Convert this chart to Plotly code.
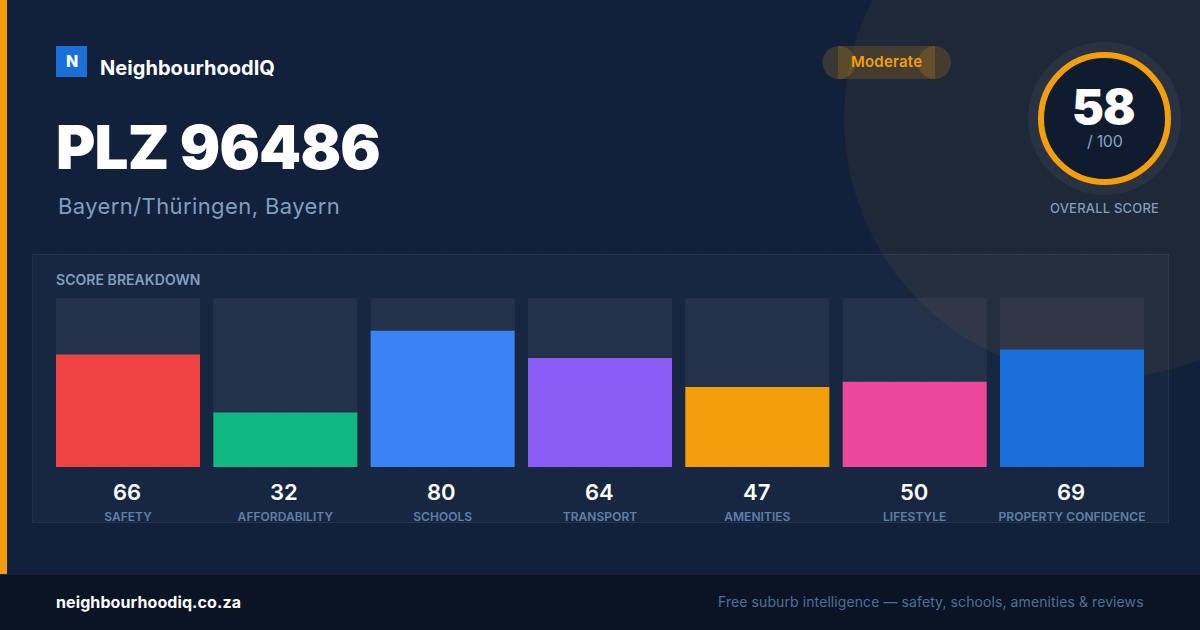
import numpy as np
import plotly.graph_objects as go

categories = ["SAFETY", "AFFORDABILITY", "SCHOOLS", "TRANSPORT", "AMENITIES", "LIFESTYLE", "PROPERTY CONFIDENCE"]
scores = [66, 32, 80, 64, 47, 50, 69]
track = [100, 100, 100, 100, 100, 100, 100]
bar_colors = ["#ef4444", "#10b981", "#3b82f6", "#8b5cf6", "#f59e0b", "#ec4899", "#1a6fd9"]

FONT = "Inter"
AMBER = "#f59e0b"
MUTED = "#829ebd"
W, H = 1200, 630

# faint dot grid of the background
dot_x, dot_y = np.meshgrid(np.arange(24.5, W, 32), np.arange(24, 575, 32))

fig = go.Figure()

fig.add_trace(go.Scatter(
    x=dot_x.ravel(), y=dot_y.ravel(), mode="markers",
    marker=dict(size=2, color="rgba(255,255,255,0.035)"),
    hoverinfo="skip", xaxis="x", yaxis="y",
))
fig.add_trace(go.Bar(
    x=categories, y=track, width=144 / 157.33, marker=dict(color="rgba(255,255,255,0.05)", line_width=0),
    hoverinfo="skip", xaxis="x2", yaxis="y2",
))
fig.add_trace(go.Bar(
    x=categories, y=scores, width=144 / 157.33, marker=dict(color=bar_colors, line_width=0),
    xaxis="x2", yaxis="y2",
))


def spaced(text, px):
    return f'<span style="letter-spacing:{px}px">{text}</span>'


def label(x, y, text, size, color, weight=400, anchor="left", spacing=0, xref="x", xshift=0):
    if spacing:
        text = spaced(text, spacing)
    fig.add_annotation(
        x=x, y=y, xref=xref, yref="y", text=text, showarrow=False, xanchor=anchor, yanchor="middle", xshift=xshift,
        borderpad=0, borderwidth=0, font=dict(family=FONT, size=size, color=color, weight=weight),
    )


def circle(cx, cy, r, fill, layer="below", line=None):
    fig.add_shape(
        type="circle", x0=cx - r, x1=cx + r, y0=cy - r, y1=cy + r, xref="x", yref="y",
        fillcolor=fill, layer=layer, line=line or dict(width=0),
    )


def rect(x0, y0, x1, y1, fill, layer="below", line=None):
    fig.add_shape(
        type="rect", x0=x0, x1=x1, y0=y0, y1=y1, xref="x", yref="y",
        fillcolor=fill, layer=layer, line=line or dict(width=0),
    )


# background decoration
circle(1104, 118, 260, "rgba(245,158,11,0.06)")
rect(32.5, 254.5, 1168.5, 522.5, "rgba(255,255,255,0.03)", line=dict(color="rgba(255,255,255,0.07)", width=1))
rect(0, 0, 7, 630, AMBER, layer="above")

# footer
rect(0, 574, 1200, 630, "#0a1424", layer="above")
rect(0, 574, 1200, 575, "#111f33", layer="above")

# logo
rect(56, 46, 87, 77, "#1a6fd9", layer="above")
label(71.5, 60.5, "N", 16, "#ffffff", 800, "center")
label(100, 68, "NeighbourhoodIQ", 20, "#ffffff", 700, spacing=0.05)

# heading
label(56, 147, "PLZ 96486", 60, "#ffffff", 900, spacing=-0.8)
label(58, 205.5, "Bayern/Thüringen, Bayern", 22, MUTED, 400, spacing=0.4)

# rating pill, its rounded ends overlap the body in the reference
rect(838, 46, 935, 79, "rgba(245,158,11,0.18)", layer="above")
circle(839, 62.5, 16.5, "rgba(245,158,11,0.18)", layer="above")
circle(934.5, 62.5, 16.5, "rgba(245,158,11,0.18)", layer="above")
label(886.5, 61, "Moderate", 15, AMBER, 600, "center", spacing=0.2)

# overall score ring
circle(1104.5, 118.5, 76.5, "rgba(255,255,255,0.05)", layer="above")
circle(1104.5, 118.5, 63.5, "#0f1b2e", layer="above", line=dict(color=AMBER, width=6))
label(1103.5, 106.5, "58", 48, "#ffffff", 900, "center", spacing=-1)
label(1104.5, 141, "/ 100", 16, "#8aa3c0", 400, "center", spacing=-0.3)
label(1104.5, 207.5, "OVERALL SCORE", 13, MUTED, 500, "center", spacing=0.2)

# breakdown panel
label(56, 279.5, "SCORE BREAKDOWN", 14, MUTED, 600, spacing=0.05)
for cat, score in zip(categories, scores):
    label(cat, 491.5, str(score), 22, "#ffffff", 600, "center", xref="x2", xshift=-1)

# footer text
label(56, 602, "neighbourhoodiq.co.za", 16, "#ffffff", 700, spacing=0.1)
label(1144, 601.5, "Free suburb intelligence — safety, schools, amenities &amp; reviews", 14, "#4f7098", 400, "right", spacing=0.09)

fig.update_layout(
    width=W, height=H, margin=dict(l=0, r=0, t=0, b=0), autosize=False,
    paper_bgcolor="#11213b", plot_bgcolor="rgba(0,0,0,0)",
    showlegend=False, barmode="overlay",
    font=dict(family=FONT),
    xaxis=dict(domain=[0, 1], range=[0, W], visible=False, fixedrange=True),
    yaxis=dict(domain=[0, 1], range=[H, 0], visible=False, fixedrange=True),
    xaxis2=dict(
        domain=[49.33 / W, 1150.67 / W], type="category", anchor="y2", categoryorder="array", categoryarray=categories,
        tickvals=categories, ticktext=[spaced(c, 0.05) for c in categories],
        tickfont=dict(family=FONT, size=12, color="#5f80a8", weight=600),
        showgrid=False, showline=False, zeroline=False, ticks="", ticklabelstandoff=41, fixedrange=True,
    ),
    yaxis2=dict(
        # the track tops are clipped a hair under 100 so bar edges land on the same pixels
        domain=[(H - 467) / H, (H - 298) / H], range=[0, 99.2], anchor="x2", visible=False, fixedrange=True,
    ),
)

fig.write_html("out.html", config={"displayModeBar": False}, post_script="document.body.style.margin='0';")
